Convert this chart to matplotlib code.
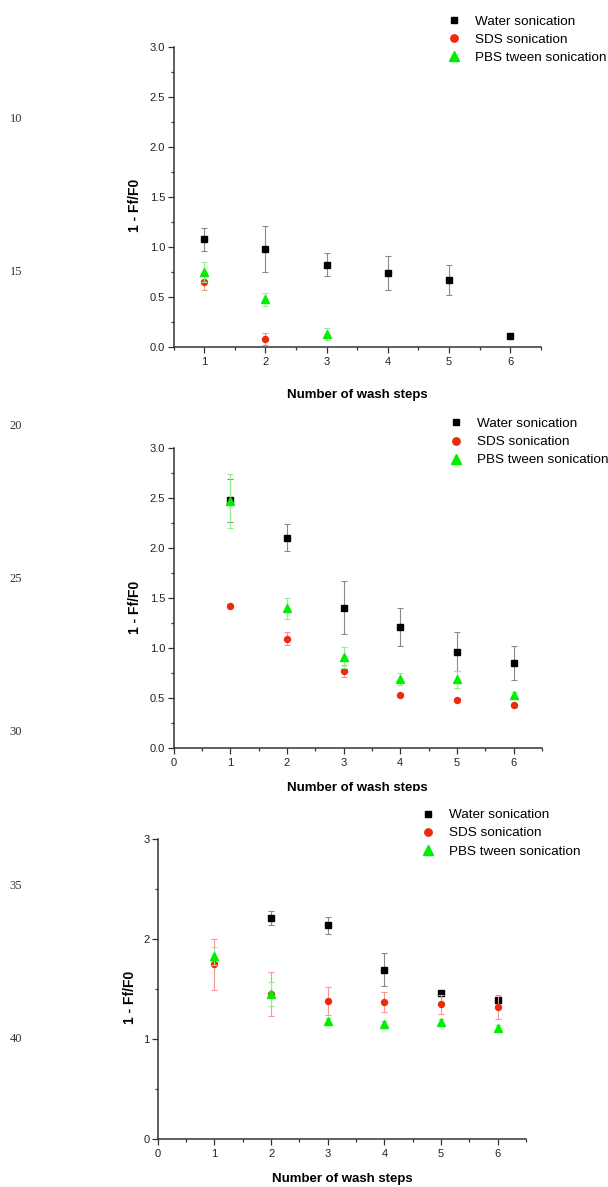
import matplotlib
matplotlib.use("Agg")
import matplotlib.pyplot as plt
from matplotlib.lines import Line2D
from matplotlib.patches import Rectangle
from matplotlib.ticker import MultipleLocator

plt.rcParams["font.family"] = ["Liberation Sans", "DejaVu Sans"]

W, H = 608, 1187

# ---- data ----
series_names = ["Water sonication", "SDS sonication", "PBS tween sonication"]

# panel 1
p1_water_x = [1, 2, 3, 4, 5, 6]
p1_water_y = [1.077, 0.98, 0.82, 0.737, 0.667, 0.107]
p1_water_err = [0.115, 0.23, 0.115, 0.17, 0.15, 0.01]
p1_sds_x = [1, 2]
p1_sds_y = [0.653, 0.08]
p1_sds_err = [0.087, 0.06]
p1_pbs_x = [1, 2, 3]
p1_pbs_y = [0.75, 0.477, 0.13]
p1_pbs_err = [0.1, 0.065, 0.06]

# panel 2
p2_water_x = [1, 2, 3, 4, 5, 6]
p2_water_y = [2.48, 2.103, 1.403, 1.213, 0.963, 0.847]
p2_water_err = [0.217, 0.135, 0.265, 0.187, 0.197, 0.17]
p2_sds_x = [1, 2, 3, 4, 5, 6]
p2_sds_y = [1.423, 1.093, 0.767, 0.527, 0.48, 0.43]
p2_sds_err = [0.02, 0.065, 0.06, 0.015, 0.015, 0.015]
p2_pbs_x = [1, 2, 3, 4, 5, 6]
p2_pbs_y = [2.473, 1.397, 0.907, 0.69, 0.687, 0.527]
p2_pbs_err = [0.27, 0.107, 0.107, 0.06, 0.085, 0.035]

# panel 3
p3_water_x = [2, 3, 4, 5, 6]
p3_water_y = [2.212, 2.135, 1.692, 1.462, 1.385]
p3_water_err = [0.072, 0.082, 0.163, 0.02, 0.02]
p3_sds_x = [1, 2, 3, 4, 5, 6]
p3_sds_y = [1.745, 1.444, 1.38, 1.367, 1.347, 1.317]
p3_sds_err = [0.255, 0.22, 0.14, 0.1, 0.095, 0.12]
p3_pbs_x = [1, 2, 3, 4, 5, 6]
p3_pbs_y = [1.824, 1.444, 1.18, 1.147, 1.17, 1.107]
p3_pbs_err = [0.09, 0.12, 0.03, 0.03, 0.025, 0.03]

line_numbers = ["10", "15", "20", "25", "30", "35", "40"]
line_number_y = [119, 272, 426, 579, 732, 886, 1039]

markers = ["s", "o", "^"]
face_colors = ["#000000", "#ee2a0e", "#00ee00"]
err_colors = ["#8a8a8a", "#f09a90", "#90ee90"]
marker_sizes = [4.0, 4.3, 5.2]
legend_sizes = [5.0, 5.3, 7.0]


def px_box(left, top, right, bottom):
    return [left / W, 1 - bottom / H, (right - left) / W, (bottom - top) / H]


def draw_panel(fig, box, groups, xlim, xticks, ymajor, yminor, yfmt,
               legend_xy, ylab_x, xlab_y):
    ax = fig.add_axes(box)
    for i, (x, y, e) in enumerate(groups):
        ax.errorbar(x, y, yerr=e, fmt=markers[i], color=face_colors[i],
                    ms=marker_sizes[i], mec=face_colors[i], ecolor=err_colors[i],
                    elinewidth=0.8, capsize=2.3, capthick=0.8, zorder=3 + i)
    ax.set_xlim(*xlim)
    ax.set_ylim(0, 3)
    ax.set_xticks(xticks)
    ax.xaxis.set_minor_locator(MultipleLocator(0.5))
    ax.yaxis.set_major_locator(MultipleLocator(ymajor))
    ax.yaxis.set_minor_locator(MultipleLocator(yminor))
    ax.yaxis.set_major_formatter(yfmt)
    for side in ["top", "right"]:
        ax.spines[side].set_visible(False)
    for side in ["left", "bottom"]:
        ax.spines[side].set_linewidth(1.1)
        ax.spines[side].set_color("#333333")
    ax.tick_params(which="major", length=4, width=0.9, color="#333333",
                   labelsize=8, labelcolor="#222222", pad=2)
    ax.tick_params(axis="x", which="major", pad=3.5)
    ax.tick_params(which="minor", length=2.5, width=0.9, color="#333333")
    ax.set_ylabel("1 - Ff/F0", fontsize=10, fontweight="bold")
    ax.yaxis.set_label_coords(ylab_x, 0.47)
    ax.set_xlabel("Number of wash steps", fontsize=9.5, fontweight="bold")
    ax.xaxis.set_label_coords(0.5, xlab_y)

    handles = [Line2D([], [], ls="none", marker=markers[i], color=face_colors[i],
                      ms=legend_sizes[i]) for i in range(3)]
    ax.legend(handles, series_names, loc="upper left",
              bbox_to_anchor=(legend_xy[0] / W, 1 - legend_xy[1] / H),
              bbox_transform=fig.transFigure, frameon=False, fontsize=9.7,
              handlelength=1.0, handletextpad=1.08, borderpad=0,
              borderaxespad=0, labelspacing=0.42)
    return ax


fig = plt.figure(figsize=(W / 100, H / 100), dpi=100)

draw_panel(fig, px_box(173.6, 46.7, 540.7, 347),
           [(p1_water_x, p1_water_y, p1_water_err),
            (p1_sds_x, p1_sds_y, p1_sds_err),
            (p1_pbs_x, p1_pbs_y, p1_pbs_err)],
           (0.5, 6.5), [1, 2, 3, 4, 5, 6], 0.5, 0.25, "{x:.1f}",
           (446.8, 15.5), -0.085, -0.141)

draw_panel(fig, px_box(173.6, 448.3, 541.9, 748),
           [(p2_water_x, p2_water_y, p2_water_err),
            (p2_sds_x, p2_sds_y, p2_sds_err),
            (p2_pbs_x, p2_pbs_y, p2_pbs_err)],
           (0, 6.5), [0, 1, 2, 3, 4, 5, 6], 0.5, 0.25, "{x:.1f}",
           (449.3, 417.7), -0.085, -0.114)

draw_panel(fig, px_box(157.8, 839, 526, 1138.7),
           [(p3_water_x, p3_water_y, p3_water_err),
            (p3_sds_x, p3_sds_y, p3_sds_err),
            (p3_pbs_x, p3_pbs_y, p3_pbs_err)],
           (0, 6.5), [0, 1, 2, 3, 4, 5, 6], 1, 0.5, "{x:.0f}",
           (421.3, 808.9), -0.056, -0.115)

# the middle panel's x label is cut by the bottom picture in the source
fig.patches.append(Rectangle((0, 0), 1, 1 - 791 / H, transform=fig.transFigure,
                             facecolor="white", edgecolor="none", zorder=1))
# keep the lower panel above the white patch
fig.axes[2].set_zorder(2)

for label, y in zip(line_numbers, line_number_y):
    fig.text(16 / W, 1 - y / H, label, family=["Liberation Serif", "DejaVu Serif"],
             fontsize=9, color="#333333", ha="center", va="center")

fig.savefig("out.png", dpi=100)
